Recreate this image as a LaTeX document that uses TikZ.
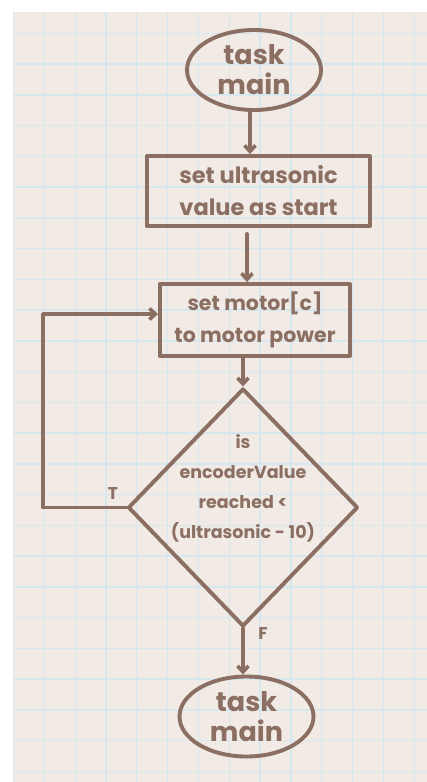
\documentclass[tikz,border=0pt]{standalone}
\usepackage{fontspec}
\setmainfont{Poppins}
\usetikzlibrary{shapes.geometric,arrows.meta}

\definecolor{ink}{RGB}{139,111,99}
\definecolor{paper}{RGB}{242,234,228}
\definecolor{gridblue}{RGB}{214,231,240}

\tikzset{
  ink line/.style={draw=ink, line width=3.9pt, line join=round, line cap=round},
  terminal/.style={ink line, ellipse, minimum width=134pt, minimum height=80pt, inner sep=0pt,
    align=center, text=ink, font=\fontsize{27}{30}\selectfont\bfseries},
  process/.style={ink line, rectangle, inner sep=0pt, align=center, text=ink,
    font=\fontsize{22.5}{32}\selectfont\bfseries},
  decision/.style={ink line, diamond, minimum width=230pt, minimum height=238pt, inner sep=0pt},
  dectext/.style={align=center, text=ink, font=\fontsize{17.5}{30}\selectfont\bfseries},
  flowlabel/.style={text=ink, font=\fontsize{17}{17}\selectfont\bfseries, inner sep=0pt},
  arr/.style={ink line, -{Straight Barb[length=6pt,width=11pt,line width=3.6pt]}},
}

\begin{document}
\begin{tikzpicture}[x=1pt, y=-1pt]
  \useasboundingbox (0,0) rectangle (427,782);
  % paper sheet with light blue squares
  \fill[white] (0,0) rectangle (427,782);
  \fill[paper] (13,12) rectangle (427,782);
  \begin{scope}
    \clip (13,12) rectangle (427,782);
    \foreach \k in {0,...,13} {
      \draw[gridblue, line width=1.3pt] ({13.5+\k*30.83},12) -- ({13.5+\k*30.83},782);
    }
    \foreach \k in {0,...,25} {
      \draw[gridblue, line width=1.3pt] (13,{2.6+\k*30.75}) -- (427,{2.6+\k*30.75});
    }
  \end{scope}

  % flow chart
  \node[terminal] (start) at (254,70) {task\\main};
  \node[process, minimum width=223pt, minimum height=70pt] (setus) at (258.5,191) {set ultrasonic\\value as start};
  \node[process, minimum width=190pt, minimum height=72pt,
        font=\fontsize{20.5}{32}\selectfont\bfseries] (setmotor) at (255,320) {set motor[c]\\to motor power};
  \node[decision] (check) at (243,507.5) {};
  \node[dectext] (checktext) at (243,488) {is\\encoderValue\\reached <\\(ultrasonic - 10)};
  \node[terminal] (finish) at (246.5,716.5) {task\\main};

  \node[flowlabel] (tlabel) at (113,494) {T};
  \node[flowlabel] (flabel) at (263,634) {F};

  % connectors
  \draw[arr] ([xshift=-4pt]start.south) -- ([xshift=-4pt]start.south |- setus.north);
  \draw[arr] ([xshift=-11.5pt, yshift=-6pt]setus.south) -- ([xshift=-8pt]setmotor.north);
  \draw[arr] (setmotor.south -| check.north) -- (check.north);
  \draw[arr] (check.west) -- ++(-83,0) |- ([yshift=6pt]setmotor.west);
  \draw[arr] (check.south) -- (check.south |- finish.north);
\end{tikzpicture}
\end{document}
